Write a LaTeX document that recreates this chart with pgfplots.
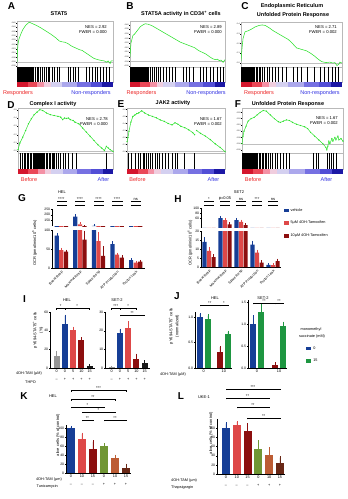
\documentclass[border=0pt]{standalone}
\usepackage{fontspec}
\setmainfont{Liberation Sans}
\usepackage{pgfplots}
\pgfplotsset{compat=1.18}
\definecolor{grn}{RGB}{45,225,45}
\definecolor{vb}{RGB}{22,62,150}
\definecolor{rd}{RGB}{222,72,72}
\definecolor{dr}{RGB}{140,14,14}
\definecolor{gy}{RGB}{150,150,150}
\definecolor{bk}{RGB}{25,25,25}
\definecolor{jg}{RGB}{30,150,65}
\definecolor{kg}{RGB}{112,150,52}
\definecolor{kb}{RGB}{188,92,52}
\definecolor{kd}{RGB}{105,40,22}
\definecolor{rr}{RGB}{235,35,35}
\definecolor{bbl}{RGB}{50,50,225}
\definecolor{cbA}{RGB}{212,22,45}
\definecolor{cbB}{RGB}{234,72,88}
\definecolor{cbC}{RGB}{244,145,165}
\definecolor{cbD}{RGB}{240,205,222}
\definecolor{cbE}{RGB}{212,208,240}
\definecolor{cbF}{RGB}{172,168,236}
\definecolor{cbG}{RGB}{118,112,226}
\definecolor{cbH}{RGB}{82,78,214}
\definecolor{cbI}{RGB}{28,24,165}
\newcommand{\fs}[1]{\fontsize{#1}{#1}\selectfont}
\newcommand{\T}[4]{\node[inner sep=0pt,#1] at (#2pt,-#3pt) {#4};}
\newcommand{\cb}[3]{\addplot[fill=#3, draw=none] coordinates {(#1,1) (#2,1)} \closedcycle;}
\newcommand{\colbar}{\cb{0}{11}{cbA}\cb{11}{21}{cbB}\cb{21}{28}{cbC}\cb{28}{35}{cbD}\cb{35}{47}{cbE}\cb{47}{62}{cbF}\cb{62}{77}{cbG}\cb{77}{89}{cbH}\cb{89}{100}{cbI}}
\pgfplotsset{
  eb/.style={/pgfplots/error bars/y dir=plus, /pgfplots/error bars/y explicit,
    /pgfplots/error bars/error bar style={#1, line width=0.35pt},
    /pgfplots/error bars/error mark options={#1, mark size=1.2pt, line width=0.35pt}},
  mylegend/.style={legend image code/.code={\fill[##1] (0pt,-1.9pt) rectangle (5pt,1.9pt);}},
  every axis/.append style={scale only axis, anchor=north west,
    major tick length=1.2pt,
    every tick/.append style={line width=0.3pt, black},
    tick label style={font=\fs{3.2}, inner sep=0.5pt},
    /pgf/number format/assume math mode=true},
  gsea/.style={xmin=0, xmax=100, xtick=\empty, ytick pos=left, tick align=outside,
    major tick length=0.8pt,
    axis line style={gray!55, line width=0.3pt},
    yticklabel style={font=\fs{1.9}, inner sep=0.4pt},
    /pgf/number format/fixed, /pgf/number format/fixed zerofill, /pgf/number format/precision=2},
  gbc/.style={xmin=0, xmax=100, ymin=0, ymax=1, ticks=none, axis line style={gray!55, line width=0.3pt}},
  gcb/.style={xmin=0, xmax=100, ymin=0, ymax=1, hide axis},
  barax/.style={axis lines=left, axis line style={-, line width=0.4pt}, tick align=outside,
    clip mode=individual, ymin=0,
    yticklabel style={font=\fs{3.4}},
    xticklabel style={font=\fontsize{3.8}{7.6}\selectfont, align=center, inner sep=0.8pt}},
}
\newcommand{\bb}[4]{\addplot[ybar, bar shift=0pt, fill=#4, draw=none, forget plot, eb=#4] coordinates {(#1,#2) +- (0,#3)};}
\newcommand{\sig}[5]{\draw[line width=0.3pt] ([yshift=-1.4pt]axis cs:#1,#3) -- (axis cs:#1,#3) -- (axis cs:#2,#3) -- ([yshift=-1.4pt]axis cs:#2,#3); \node[font=\fs{4}, inner sep=0.2pt, anchor=south] at (axis cs:#4,#3) {#5};}
\newcommand{\brk}[3]{\draw[line width=0.3pt] ([yshift=-1.2pt]axis cs:#1,#3) -- (axis cs:#1,#3) -- (axis cs:#2,#3) -- ([yshift=-1.2pt]axis cs:#2,#3);}
\begin{document}
\begin{tikzpicture}
\useasboundingbox (0pt,0pt) rectangle (348pt,-499pt);

%%%%%%%%%%%%%%%% A
\begin{axis}[gsea, at={(17pt,-21pt)}, width=96pt, height=46pt, ymin=-0.06, ymax=0.47,
  ytick={-0.05,0,0.05,0.1,0.15,0.2,0.25,0.3,0.35,0.4,0.45}]
\addplot[gray!50, line width=0.25pt] coordinates {(0,0)(100,0)};
\addplot[grn, line width=0.55pt] coordinates {(0,0.0)(0.5,0.12)(1,0.2)(2,0.26)(4,0.32)(6,0.37)(9,0.42)(12,0.45)(13,0.455)(16,0.44)(20,0.42)(25,0.39)(30,0.355)(35,0.32)(40,0.28)(44,0.24)(47,0.23)(50,0.225)(53,0.21)(57,0.18)(61,0.16)(65,0.14)(68,0.13)(72,0.1)(76,0.07)(80,0.04)(84,0.025)(88,0.015)(91,0.01)(93,-0.005)(95,0.01)(97,-0.02)(98,0.01)(100,0.01)};
\end{axis}
\begin{axis}[gbc, at={(17pt,-67pt)}, width=96pt, height=15pt]
\addplot[ycomb, black, line width=0.3pt] coordinates {(0.5,1)(1.2,1)(1.8,1)(2.5,1)(3.1,1)(3.8,1)(4.4,1)(5.1,1)(5.8,1)(6.4,1)(7.2,1)(7.9,1)(8.6,1)(9.3,1)(10.1,1)(10.8,1)(11.6,1)(12.4,1)(13.1,1)(13.9,1)(14.7,1)(15.5,1)(16.3,1)(17.2,1)(19,1)(20.5,1)(22.5,1)(24.5,1)(26,1)(28,1)(30,1)(32,1)(34,1)(36.5,1)(39,1)(41.5,1)(44,1)(53,1)(55.5,1)(58,1)(61,1)(64,1)(72,1)(75,1)(78,1)(81,1)(84,1)(87,1)(90,1)(93,1)(96,1)};
\end{axis}
\begin{axis}[gcb, at={(17pt,-82pt)}, width=96pt, height=5pt]
\colbar
\end{axis}

%%%%%%%%%%%%%%%% B
\begin{axis}[gsea, at={(130pt,-21pt)}, width=95pt, height=46pt, ymin=-0.06, ymax=0.44,
  ytick={-0.05,0,0.05,0.1,0.15,0.2,0.25,0.3,0.35,0.4}]
\addplot[gray!50, line width=0.25pt] coordinates {(0,0)(100,0)};
\addplot[grn, line width=0.55pt] coordinates {(0,0.05)(1,0.2)(3,0.28)(5,0.3)(8,0.34)(11,0.38)(14,0.4)(16,0.41)(19,0.405)(23,0.39)(28,0.36)(33,0.33)(38,0.3)(43,0.27)(48,0.24)(53,0.21)(58,0.19)(63,0.17)(68,0.15)(72,0.12)(76,0.1)(80,0.08)(84,0.05)(87,0.03)(90,0.02)(92,0.025)(94,0.01)(96,0.015)(98,-0.01)(100,0.02)};
\end{axis}
\begin{axis}[gbc, at={(130pt,-67pt)}, width=95pt, height=15pt]
\addplot[ycomb, black, line width=0.3pt] coordinates {(0.4,1)(1,1)(1.6,1)(2.3,1)(3,1)(3.6,1)(4.3,1)(5,1)(5.7,1)(6.5,1)(7.3,1)(8.1,1)(9,1)(9.9,1)(10.8,1)(11.7,1)(12.6,1)(13.6,1)(14.6,1)(15.6,1)(16.7,1)(18,1)(19.5,1)(21,1)(23,1)(25,1)(27,1)(29.5,1)(32,1)(35,1)(38,1)(41,1)(44,1)(48,1)(56,1)(59,1)(62,1)(66,1)(74,1)(77,1)(80,1)(84,1)(88,1)(92,1)(95,1)(98,1)};
\end{axis}
\begin{axis}[gcb, at={(130pt,-82pt)}, width=95pt, height=5pt]
\colbar
\end{axis}

%%%%%%%%%%%%%%%% C
\begin{axis}[gsea, at={(241pt,-22pt)}, width=101pt, height=45pt, ymin=-0.04, ymax=0.42,
  ytick={0,0.1,0.2,0.3,0.4}, /pgf/number format/precision=1]
\addplot[gray!50, line width=0.25pt] coordinates {(0,0)(100,0)};
\addplot[grn, line width=0.55pt] coordinates {(0,0.02)(1,0.15)(2,0.25)(4,0.32)(7,0.33)(10,0.345)(14,0.37)(18,0.385)(21,0.39)(24,0.385)(28,0.36)(32,0.33)(37,0.3)(42,0.27)(47,0.24)(51,0.2)(55,0.155)(60,0.14)(65,0.125)(69,0.1)(73,0.07)(77,0.035)(80,0.015)(84,0.005)(88,0.01)(91,0.0)(93,0.005)(95,-0.025)(97,-0.01)(98,0.01)(100,0.0)};
\end{axis}
\begin{axis}[gbc, at={(241pt,-67pt)}, width=101pt, height=15pt]
\addplot[ycomb, black, line width=0.3pt] coordinates {(0.3,1)(0.9,1)(1.5,1)(2.2,1)(2.8,1)(3.5,1)(4.2,1)(5,1)(5.8,1)(6.6,1)(7.4,1)(8.3,1)(9.2,1)(10.2,1)(11.2,1)(12.3,1)(13.4,1)(14.6,1)(16,1)(17.5,1)(19,1)(21,1)(23,1)(25.5,1)(28,1)(31,1)(34,1)(37,1)(41,1)(45,1)(52,1)(56,1)(60,1)(65,1)(72,1)(78,1)(82,1)(86,1)(90,1)(93,1)(96,1)};
\end{axis}
\begin{axis}[gcb, at={(241pt,-82pt)}, width=101pt, height=5pt]
\colbar
\end{axis}

%%%%%%%%%%%%%%%% D
\begin{axis}[gsea, at={(18pt,-108pt)}, width=95pt, height=45pt, ymin=-0.02, ymax=0.52,
  ytick={0,0.1,0.2,0.3,0.4,0.5}, /pgf/number format/precision=1]
\addplot[gray!50, line width=0.25pt] coordinates {(0,0)(100,0)};
\addplot[grn, line width=0.5pt, mark=*, mark size=0.35pt] coordinates {(0,0.02)(2,0.1)(5,0.17)(8,0.25)(11,0.33)(14,0.39)(17,0.44)(20,0.47)(23,0.5)(26,0.49)(30,0.46)(34,0.44)(38,0.43)(42,0.42)(45,0.41)(47,0.38)(49,0.4)(51,0.395)(53,0.4)(55,0.38)(58,0.37)(60,0.35)(64,0.33)(68,0.28)(72,0.23)(76,0.18)(80,0.13)(84,0.08)(88,0.04)(91,0.01)(93,0.06)(95,0.04)(97,0.02)(100,0.0)};
\end{axis}
\begin{axis}[gbc, at={(18pt,-153pt)}, width=95pt, height=16pt]
\addplot[ycomb, black, line width=0.3pt] coordinates {(2,1)(4,1)(6,1)(8,1)(9.5,1)(11,1)(12.5,1)(14,1)(15.5,1)(17,1)(18,1)(19,1)(20,1)(21,1)(22,1)(23,1)(24,1)(25,1)(26,1)(27,1)(28,1)(29.5,1)(31,1)(32.5,1)(34,1)(35.5,1)(37,1)(38.5,1)(40,1)(42,1)(44,1)(47,1)(50,1)(53,1)(57,1)(61,1)(93,1)};
\end{axis}
\begin{axis}[gcb, at={(18pt,-169pt)}, width=95pt, height=5pt]
\colbar
\end{axis}

%%%%%%%%%%%%%%%% E
\begin{axis}[gsea, at={(127pt,-108pt)}, width=98pt, height=45pt, ymin=-0.02, ymax=0.62,
  ytick={0,0.1,0.2,0.3,0.4,0.5,0.6}, /pgf/number format/precision=1]
\addplot[gray!50, line width=0.25pt] coordinates {(0,0)(100,0)};
\addplot[grn, line width=0.5pt, mark=*, mark size=0.35pt] coordinates {(0,0.14)(1,0.2)(2,0.29)(4,0.42)(6,0.5)(8,0.52)(10,0.54)(12,0.55)(15,0.58)(18,0.55)(22,0.52)(26,0.5)(30,0.48)(34,0.45)(38,0.43)(42,0.4)(46,0.38)(49,0.41)(52,0.39)(55,0.36)(59,0.34)(63,0.31)(67,0.27)(69,0.24)};
\addplot[grn, line width=0.5pt, mark=*, mark size=0.35pt] coordinates {(71,0.3)(75,0.26)(80,0.22)(85,0.17)(90,0.11)(95,0.06)(100,0.0)};
\end{axis}
\begin{axis}[gbc, at={(127pt,-153pt)}, width=98pt, height=16pt]
\addplot[ycomb, black, line width=0.3pt] coordinates {(1,1)(4,1)(8.5,1)(11,1)(13.5,1)(16,1)(18,1)(20,1)(22,1)(24,1)(26,1)(29,1)(31,1)(33,1)(36,1)(39,1)(42,1)(46,1)(49,1)(51,1)(58,1)(69,1)};
\end{axis}
\begin{axis}[gcb, at={(127pt,-169pt)}, width=98pt, height=5pt]
\colbar
\end{axis}

%%%%%%%%%%%%%%%% F
\begin{axis}[gsea, at={(242pt,-108pt)}, width=101pt, height=45pt, ymin=-0.075, ymax=0.285,
  ytick={-0.05,0,0.05,0.1,0.15,0.2,0.25}]
\addplot[gray!50, line width=0.25pt] coordinates {(0,0)(100,0)};
\addplot[grn, line width=0.5pt, mark=*, mark size=0.3pt] coordinates {(0,0.0)(1,0.06)(2,0.1)(4,0.14)(6,0.18)(9,0.2)(12,0.21)(15,0.23)(18,0.25)(21,0.265)(24,0.26)(28,0.23)(32,0.2)(36,0.175)(38,0.17)(41,0.18)(44,0.19)(47,0.185)(50,0.17)(54,0.155)(58,0.145)(62,0.135)(65,0.12)(68,0.09)(72,0.06)(76,0.03)(80,0.0)(83,-0.03)(84,-0.05)(85,-0.02)(86,0.02)(87,0.0)(89,0.04)(90,0.02)(92,0.05)(93,0.03)(95,0.06)(96,0.03)(98,0.04)(100,0.02)};
\end{axis}
\begin{axis}[gbc, at={(242pt,-153pt)}, width=101pt, height=16pt]
\addplot[ycomb, black, line width=0.3pt] coordinates {(0.3,1)(1,1)(1.7,1)(2.4,1)(3.1,1)(3.9,1)(4.7,1)(5.5,1)(6.3,1)(7.2,1)(8.1,1)(9,1)(10,1)(11,1)(12,1)(13,1)(14.2,1)(15.4,1)(16.6,1)(18,1)(19.5,1)(21,1)(22.5,1)(24,1)(26,1)(28,1)(30,1)(32.5,1)(35,1)(38,1)(41,1)(44,1)(47,1)(70,1)(73,1)(75,1)(84,1)(86,1)(88,1)(90,1)(93,1)};
\end{axis}
\begin{axis}[gcb, at={(242pt,-169pt)}, width=101pt, height=5pt]
\colbar
\end{axis}

%%%%%%%%%%%%%%%% G lower
\begin{axis}[barax, at={(52pt,-230pt)}, width=93pt, height=38pt, xmin=-0.5, xmax=4.5, ymax=100,
  ytick={0,50,100}, ybar=0.4pt, bar width=4.2pt, xtick={0,1,2,3,4},
  xticklabels={Basal Resp,Maximal Resp,Spare Resp,ATP Production,Proton Leak},
  xticklabel style={rotate=45, anchor=north east, font=\fs{3.5}}]
\addplot[fill=vb, draw=none, eb=vb] coordinates {(0,85)+-(0,3) (1,182)+-(0,10) (2,102)+-(0,6) (3,63)+-(0,4) (4,21)+-(0,2)};
\addplot[fill=rd, draw=none, eb=rd] coordinates {(0,47)+-(0,3) (1,115)+-(0,10) (2,71)+-(0,20) (3,35)+-(0,2) (4,14)+-(0,1)};
\addplot[fill=dr, draw=none, eb=dr] coordinates {(0,43)+-(0,2) (1,75)+-(0,20) (2,32)+-(0,22) (3,27)+-(0,3) (4,17)+-(0,1)};
\end{axis}
%%%%%%%%%%%%%%%% G upper
\begin{axis}[barax, at={(52pt,-209pt)}, width=93pt, height=17pt, xmin=-0.5, xmax=4.5, ymin=100, ymax=250,
  ytick={150,200,250}, axis x line=none, ybar=0.4pt, bar width=4.2pt, xtick=\empty]
\addplot[fill=vb, draw=none, eb=vb] coordinates {(0,85)+-(0,3) (1,182)+-(0,10) (2,102)+-(0,6) (3,63)+-(0,4) (4,21)+-(0,2)};
\addplot[fill=rd, draw=none, eb=rd] coordinates {(0,47)+-(0,3) (1,115)+-(0,10) (2,71)+-(0,20) (3,35)+-(0,2) (4,14)+-(0,1)};
\addplot[fill=dr, draw=none, eb=dr] coordinates {(0,43)+-(0,2) (1,75)+-(0,20) (2,32)+-(0,22) (3,27)+-(0,3) (4,17)+-(0,1)};
\sig{-0.25}{0.25}{322}{0}{****}\brk{-0.25}{-0.02}{285}\brk{0.02}{0.25}{285}
\sig{0.75}{1.25}{322}{1}{****}\brk{0.75}{0.98}{285}\brk{1.02}{1.25}{285}
\sig{1.75}{2.25}{322}{2}{****}\brk{1.75}{1.98}{285}\brk{2.02}{2.25}{285}
\sig{2.75}{3.25}{322}{3}{****}\brk{2.75}{2.98}{285}\brk{3.02}{3.25}{285}
\sig{3.75}{4.25}{322}{4}{ns}\brk{3.75}{3.98}{285}\brk{4.02}{4.25}{285}
\end{axis}

%%%%%%%%%%%%%%%% H lower
\begin{axis}[barax, at={(201pt,-231pt)}, width=80pt, height=36pt, xmin=-0.5, xmax=4.5, ymax=20,
  ytick={0,5,10,15,20}, ybar=0.4pt, bar width=4.2pt, xtick={0,1,2,3,4},
  xticklabels={Basal Resp,Maximal Resp,Spare Resp,ATP Production,Proton Leak},
  xticklabel style={rotate=45, anchor=north east, font=\fs{3.5}},
  legend style={at={(1.03,1.69)}, anchor=north west, draw=none, fill=none, font=\fs{3.8},
    inner sep=0pt, row sep=4.5pt, cells={anchor=west}}]
\addplot[fill=vb, draw=none, mylegend, eb=vb] coordinates {(0,14)+-(0,2) (1,60)+-(0,4) (2,52)+-(0,4) (3,12.5)+-(0,1.5) (4,1.2)+-(0,0.3)};
\addplot[fill=rd, draw=none, mylegend, eb=rd] coordinates {(0,9)+-(0,1.5) (1,52)+-(0,4) (2,45)+-(0,4) (3,8)+-(0,1) (4,1.0)+-(0,0.3)};
\addplot[fill=dr, draw=none, mylegend, eb=dr] coordinates {(0,5.5)+-(0,1) (1,35)+-(0,3) (2,32)+-(0,3) (3,2.5)+-(0,0.6) (4,3.2)+-(0,0.8)};
\legend{vehicle, 5µM 4OH-Tamoxifen, 10µM 4OH-Tamoxifen}
\end{axis}
%%%%%%%%%%%%%%%% H upper
\begin{axis}[barax, at={(201pt,-208pt)}, width=80pt, height=20pt, xmin=-0.5, xmax=4.5, ymin=20, ymax=100,
  ytick={60,80,100}, axis x line=none, ybar=0.4pt, bar width=4.2pt, xtick=\empty]
\addplot[fill=vb, draw=none, eb=vb] coordinates {(0,14)+-(0,2) (1,60)+-(0,4) (2,52)+-(0,4) (3,12.5)+-(0,1.5) (4,1.2)+-(0,0.3)};
\addplot[fill=rd, draw=none, eb=rd] coordinates {(0,9)+-(0,1.5) (1,52)+-(0,4) (2,45)+-(0,4) (3,8)+-(0,1) (4,1.0)+-(0,0.3)};
\addplot[fill=dr, draw=none, eb=dr] coordinates {(0,5.5)+-(0,1) (1,35)+-(0,3) (2,32)+-(0,3) (3,2.5)+-(0,0.6) (4,3.2)+-(0,0.8)};
\sig{-0.29}{0.29}{128}{0}{*}\brk{-0.29}{-0.02}{112}\brk{0.02}{0.29}{112}
\sig{0.71}{1.29}{128}{1}{p=0.05}\brk{0.71}{0.98}{112}\brk{1.02}{1.29}{112}
\sig{1.71}{2.29}{128}{2}{ns}\brk{1.71}{1.98}{112}\brk{2.02}{2.29}{112}
\sig{2.71}{3.29}{128}{3}{***}\brk{2.71}{2.98}{112}\brk{3.02}{3.29}{112}
\sig{3.71}{4.29}{128}{4}{ns}\brk{3.71}{3.98}{112}\brk{4.02}{4.29}{112}
\end{axis}

%%%%%%%%%%%%%%%% I HEL
\begin{axis}[barax, at={(50pt,-312pt)}, width=45pt, height=56pt, xmin=-0.8, xmax=4.65, ymax=60,
  ytick={0,20,40,60}, bar width=6pt, xtick={0,1,2,3,4},
  xticklabels={{0\\–},{0\\+},{5\\+},{10\\+},{15\\+}}]
\bb{0}{13}{4}{gy}\bb{1}{47}{9}{vb}\bb{2}{41}{2}{rd}\bb{3}{30}{1.5}{dr}\bb{4}{2}{1}{bk}
\sig{0}{1}{64}{0.5}{*}\sig{1}{4}{64}{2.5}{*}
\end{axis}
%%%%%%%%%%%%%%%% I SET-2
\begin{axis}[barax, at={(105pt,-312pt)}, width=45pt, height=56pt, xmin=-0.8, xmax=4.65, ymax=30,
  ytick={0,10,20,30}, bar width=6pt, xtick={0,1,2,3,4},
  xticklabels={{0\\–},{0\\+},{5\\+},{10\\+},{15\\+}}]
\bb{0}{0.3}{0.2}{gy}\bb{1}{19}{1.5}{vb}\bb{2}{21.5}{3}{rd}\bb{3}{5}{2}{dr}\bb{4}{2.5}{1}{bk}
\sig{0}{1}{32}{0.5}{***}\sig{1}{3}{32}{2}{*}\sig{1}{4}{28.4}{2.5}{**}
\end{axis}

%%%%%%%%%%%%%%%% J HEL
\begin{axis}[barax, at={(195pt,-312pt)}, width=36.8pt, height=56pt, xmin=-0.6, xmax=4.0, ymax=1.1,
  ytick={0,0.5,1}, /pgf/number format/fixed, /pgf/number format/fixed zerofill, /pgf/number format/precision=1,
  bar width=6.5pt, xtick={0.5,3}, xticklabels={0,10}]
\bb{0}{1.0}{0.06}{vb}\bb{1}{0.97}{0.06}{jg}\bb{2.5}{0.31}{0.1}{dr}\bb{3.5}{0.66}{0.05}{jg}
\sig{0}{2.5}{1.24}{1.25}{**}\sig{2.5}{3.5}{1.24}{3}{*}
\end{axis}
%%%%%%%%%%%%%%%% J SET-2
\begin{axis}[barax, at={(248pt,-300pt)}, width=39pt, height=68pt, xmin=-0.625, xmax=4.25, ymax=1.55,
  ytick={0,0.5,1,1.5}, /pgf/number format/fixed, /pgf/number format/fixed zerofill, /pgf/number format/precision=1,
  bar width=6.5pt, xtick={0.5,3.25}, xticklabels={0,10},
  legend style={at={(1.49,0.35)}, anchor=north west, draw=none, fill=none, font=\fs{3.8},
    inner sep=0pt, row sep=4.6pt, cells={anchor=west}}]
\addlegendimage{fill=vb, draw=none, mylegend}\addlegendentry{0}
\addlegendimage{fill=jg, draw=none, mylegend}\addlegendentry{15}
\bb{0}{1.0}{0.17}{vb}\bb{1}{1.28}{0.15}{jg}\bb{2.75}{0.07}{0.03}{dr}\bb{3.75}{0.95}{0.08}{jg}
\sig{0}{2.75}{1.48}{1.375}{**}\sig{2.75}{3.75}{1.48}{3.25}{**}
\end{axis}

%%%%%%%%%%%%%%%% K
\begin{axis}[barax, at={(66pt,-425pt)}, width=65pt, height=48pt, xmin=-0.45, xmax=5.45, ymax=106.7,
  ytick={0,20,40,60,80,100}, bar width=8pt, xtick={0,1,2,3,4,5},
  xticklabels={{0\\–},{10\\–},{15\\–},{0\\+},{10\\+},{15\\+}}]
\bb{0}{100}{2}{vb}\bb{1}{75}{12}{rd}\bb{2}{53}{17}{dr}\bb{3}{59}{4}{kg}\bb{4}{33}{5}{kb}\bb{5}{12}{6}{kd}
\sig{0}{5}{184}{2.5}{***}\sig{0}{4}{164}{2}{**}\sig{0}{3}{147}{1.5}{*}\sig{1}{4}{136}{2.5}{*}
\sig{1}{2}{118}{1.5}{**}\sig{3}{5}{118}{4}{**}
\end{axis}

%%%%%%%%%%%%%%%% L
\begin{axis}[barax, at={(217pt,-419pt)}, width=67.8pt, height=55pt, xmin=-0.83, xmax=5.45, ymax=120,
  ytick={0,20,40,60,80,100}, bar width=8pt, xtick={0,1,2,3,4,5},
  xticklabels={{0\\–},{10\\–},{15\\–},{0\\+},{10\\+},{15\\+}}]
\bb{0}{100}{10}{vb}\bb{1}{107}{6}{rd}\bb{2}{93}{15}{dr}\bb{3}{54}{17}{kg}\bb{4}{41}{15}{kb}\bb{5}{24}{12}{kd}
\sig{0}{5}{186}{2.5}{***}\sig{0}{4}{166}{2}{**}\sig{1}{4}{146}{2.5}{**}\sig{2}{5}{122}{3.5}{**}
\end{axis}

%%%%%%%%%%%%%%%% texts
\T{font=\fs{10}\bfseries}{11.5}{6}{A}
\T{font=\fs{10}\bfseries}{130}{6.5}{B}
\T{font=\fs{10}\bfseries}{245}{6.5}{C}
\T{font=\fs{10}\bfseries}{11}{105}{D}
\T{font=\fs{10}\bfseries}{121}{104}{E}
\T{font=\fs{10}\bfseries}{238}{104}{F}
\T{font=\fs{10}\bfseries}{22}{198}{G}
\T{font=\fs{10}\bfseries}{178}{199}{H}
\T{font=\fs{10}\bfseries}{24.5}{299}{I}
\T{font=\fs{10}\bfseries}{177}{296}{J}
\T{font=\fs{10}\bfseries}{24}{396}{K}
\T{font=\fs{10}\bfseries}{181}{396}{L}

\T{font=\fs{5.5}\bfseries}{59}{14}{STAT5}
\T{font=\fs{5.5}\bfseries}{181}{14}{STAT5A activity in CD34\textsuperscript{+} cells}
\T{font=\fs{5.5}\bfseries}{292}{6.5}{Endoplasmic Reticulum}
\T{font=\fs{5.5}\bfseries}{293}{15}{Unfolded Protein Response}
\T{font=\fs{5.5}\bfseries}{53}{104}{Complex I activity}
\T{font=\fs{5.5}\bfseries}{173}{103.5}{JAK2 activity}
\T{font=\fs{5.5}\bfseries}{288}{104}{Unfolded Protein Response}

\T{font=\fs{4.2}, anchor=east}{107}{27}{NES = 2.92}
\T{font=\fs{4.2}, anchor=east}{107}{32.5}{FWER = 0.000}
\T{font=\fs{4.2}, anchor=east}{222}{27}{NES = 2.89}
\T{font=\fs{4.2}, anchor=east}{222}{32.5}{FWER = 0.000}
\T{font=\fs{4.2}, anchor=east}{337}{27}{NES = 2.71}
\T{font=\fs{4.2}, anchor=east}{337}{32.5}{FWER = 0.002}
\T{font=\fs{4.2}, anchor=east}{108}{119}{NES = 2.78}
\T{font=\fs{4.2}, anchor=east}{108}{124.5}{FWER = 0.000}
\T{font=\fs{4.2}, anchor=east}{222}{119}{NES = 1.67}
\T{font=\fs{4.2}, anchor=east}{222}{124.5}{FWER = 0.002}
\T{font=\fs{4.2}, anchor=east}{338}{118}{NES = 1.67}
\T{font=\fs{4.2}, anchor=east}{338}{123.5}{FWER = 0.002}

\T{font=\fs{5.5}, text=rr}{18}{93}{Responders}
\T{font=\fs{5.5}, text=bbl}{91}{93}{Non-responders}
\T{font=\fs{5.5}, text=rr}{141.5}{93}{Responders}
\T{font=\fs{5.5}, text=bbl}{206}{93}{Non-responders}
\T{font=\fs{5.5}, text=rr}{259}{93}{Responders}
\T{font=\fs{5.5}, text=bbl}{320}{93}{Non-responders}
\T{font=\fs{5.5}, text=rr}{29}{180}{Before}
\T{font=\fs{5.5}, text=bbl}{103.5}{180}{After}
\T{font=\fs{5.5}, text=rr}{137.5}{180}{Before}
\T{font=\fs{5.5}, text=bbl}{213.5}{180}{After}
\T{font=\fs{5.5}, text=rr}{253}{180}{Before}
\T{font=\fs{5.5}, text=bbl}{326.5}{180}{After}

\T{font=\fs{4}}{62}{192}{HEL}
\T{font=\fs{4}}{239}{192}{SET2}
\T{font=\fs{4}, rotate=90}{34.5}{243}{OCR (pmol/min/10\textsuperscript{6} cells)}
\T{font=\fs{4}, rotate=90}{190}{243}{OCR (pmol/min/10\textsuperscript{6} cells)}

\T{font=\fs{4}}{67}{300}{HEL}
\T{font=\fs{4}}{117}{300}{SET-2}
\T{font=\fs{4}}{215}{298}{HEL}
\T{font=\fs{4}}{263}{298}{SET-2}
\T{font=\fontsize{4}{6}\selectfont, rotate=90, align=center}{38}{330}{pY694-STAT5\textsuperscript{+} cells\\(\%)}
\T{font=\fontsize{4}{6}\selectfont, rotate=90, align=center}{174}{326}{pY694-STAT5\textsuperscript{+} cells\\(normalized)}
\T{font=\fs{3.8}, anchor=east}{42}{374}{4OH-TAM (µM)}
\T{font=\fs{3.8}, anchor=east}{36}{382}{THPO}
\T{font=\fs{3.8}, anchor=east}{186}{375}{4OH-TAM (µM)}
\T{font=\fs{3.8}}{311}{330}{monomethyl}
\T{font=\fs{3.8}}{312}{336.5}{succinate (mM)}

\T{font=\fs{4}}{53}{396}{HEL}
\T{font=\fs{4}}{204}{397}{UKE-1}
\T{font=\fs{4}, rotate=90}{58}{435}{alive cells (\% of control)}
\T{font=\fs{4}, rotate=90}{211}{433}{alive cells (\% of control)}
\T{font=\fs{3.8}, anchor=east}{62}{480}{4OH-TAM (µm)}
\T{font=\fs{3.8}, anchor=east}{58}{487}{Tunicamycin}
\T{font=\fs{3.8}, anchor=west}{171}{481}{4OH-TAM (µm)}
\T{font=\fs{3.8}, anchor=west}{171}{488}{Thapsigargin}
\end{tikzpicture}
\end{document}
